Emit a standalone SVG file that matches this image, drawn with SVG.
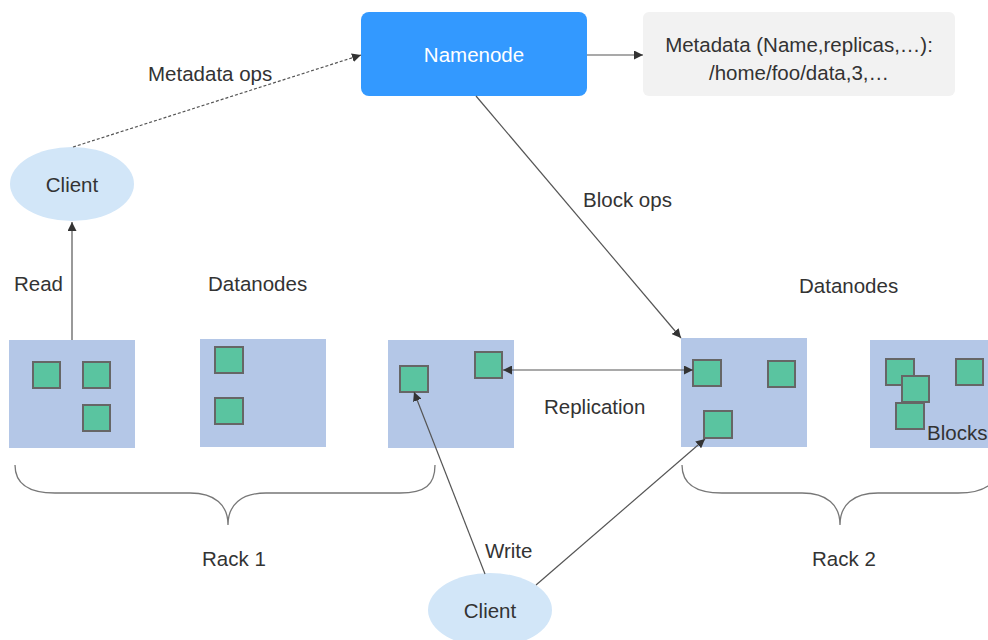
<svg xmlns="http://www.w3.org/2000/svg" width="988" height="640" viewBox="0 0 988 640">
<defs>
<marker id="ah" viewBox="0 0 10 10" refX="10" refY="5" markerWidth="9" markerHeight="9" markerUnits="userSpaceOnUse" orient="auto-start-reverse">
<path d="M0,0 L10,5 L0,10 z" fill="#333"/>
</marker>
<style>
text{font-family:"Liberation Sans",Arial,sans-serif;font-size:20.5px;fill:#333}
.rack{fill:#b4c7e7}
.blk{fill:#5ac4a0;stroke:#666;stroke-width:2}
.cl{fill:#d2e6f8}
.ln{stroke:#555;stroke-width:1.2;fill:none}
.br{stroke:#777;stroke-width:1.3;fill:none}
</style>
</defs>
<rect width="988" height="640" fill="#fff"/>
<g id="namenode">
<rect x="361" y="12" width="226" height="84" rx="8" fill="#3399ff"/>
<text x="474" y="62" text-anchor="middle" style="fill:#fff">Namenode</text>
</g>
<g id="metadata">
<rect x="643" y="12" width="312" height="84" rx="6" fill="#f2f2f2"/>
<text x="799" y="52" text-anchor="middle">Metadata (Name,replicas,…):</text>
<text x="799" y="80" text-anchor="middle">/home/foo/data,3,…</text>
</g>
<g id="client-read">
<ellipse cx="72" cy="184" rx="62" ry="37" class="cl"/>
<text x="72" y="192" text-anchor="middle">Client</text>
</g>
<g id="client-write">
<ellipse cx="490" cy="610" rx="62" ry="37" class="cl"/>
<text x="490" y="618" text-anchor="middle">Client</text>
</g>
<g id="dn1">
<rect x="9" y="340" width="126" height="108" class="rack"/>
<rect x="33" y="362" width="27" height="26" class="blk"/>
<rect x="83" y="362" width="27" height="26" class="blk"/>
<rect x="83" y="405" width="27" height="26" class="blk"/>
</g>
<g id="dn2">
<rect x="200" y="339" width="126" height="108" class="rack"/>
<rect x="215" y="347" width="28" height="26" class="blk"/>
<rect x="215" y="398" width="28" height="26" class="blk"/>
</g>
<g id="dn3">
<rect x="388" y="340" width="126" height="108" class="rack"/>
<rect x="400" y="366" width="28" height="26" class="blk"/>
<rect x="475" y="352" width="27" height="26" class="blk"/>
</g>
<g id="dn4">
<rect x="681" y="338" width="126" height="109" class="rack"/>
<rect x="693" y="360" width="28" height="26" class="blk"/>
<rect x="768" y="361" width="27" height="26" class="blk"/>
<rect x="704" y="411" width="28" height="27" class="blk"/>
</g>
<g id="dn5">
<rect x="870" y="340" width="118" height="108" class="rack"/>
<rect x="886" y="359" width="28" height="26" class="blk"/>
<rect x="902" y="376" width="27" height="26" class="blk"/>
<rect x="896" y="403" width="28" height="26" class="blk"/>
<rect x="956" y="359" width="27" height="26" class="blk"/>
<text x="927" y="440">Blocks</text>
</g>
<g id="connectors">
<line x1="73" y1="147" x2="361" y2="55" class="ln" stroke-dasharray="3,2" marker-end="url(#ah)"/>
<line x1="587" y1="55" x2="643" y2="55" class="ln" marker-end="url(#ah)"/>
<line x1="72" y1="340" x2="72" y2="222" class="ln" marker-end="url(#ah)"/>
<line x1="476" y1="96" x2="681" y2="338" class="ln" marker-end="url(#ah)"/>
<line x1="503" y1="370" x2="693" y2="370" class="ln" marker-start="url(#ah)" marker-end="url(#ah)"/>
<line x1="485" y1="574" x2="414" y2="392" class="ln" marker-end="url(#ah)"/>
<line x1="536" y1="585" x2="705" y2="439" class="ln" marker-end="url(#ah)"/>
</g>
<g id="braces">
<path class="br" d="M15,465 C15,485 30,493 55,493 L190,493 C215,493 228,505 228,525 C228,505 241,493 266,493 L400,493 C425,493 435,485 435,465"/>
<path class="br" d="M682,465 C682,485 697,493 722,493 L802,493 C827,493 840,505 840,525 C840,505 853,493 878,493 L958,493 C983,493 998,485 998,465"/>
</g>
<g id="labels">
<text x="148" y="81">Metadata ops</text>
<text x="14" y="291">Read</text>
<text x="208" y="291">Datanodes</text>
<text x="799" y="293">Datanodes</text>
<text x="583" y="207">Block ops</text>
<text x="544" y="414">Replication</text>
<text x="485" y="558">Write</text>
<text x="202" y="566">Rack 1</text>
<text x="812" y="566">Rack 2</text>
</g>
</svg>
